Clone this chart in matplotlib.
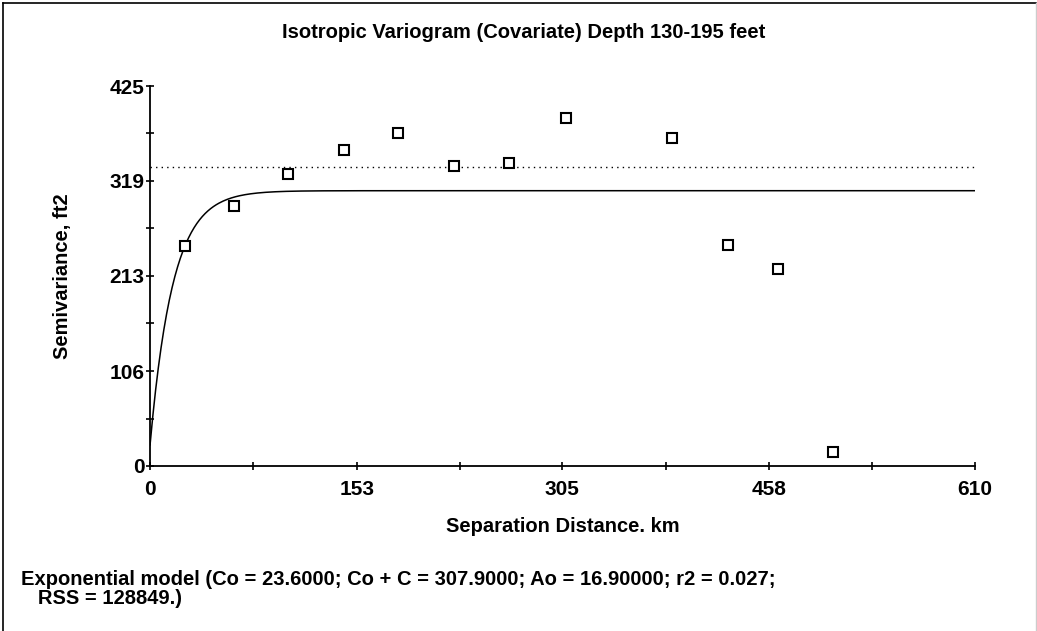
import numpy as np
import matplotlib.pyplot as plt
from matplotlib import rcParams
from matplotlib.lines import Line2D

rcParams['font.family'] = ['Liberation Sans', 'DejaVu Sans']
rcParams['font.weight'] = 'bold'

# 实验变差函数点 (分隔距离, 半方差)
lag_dist = [25.9, 62.4, 102.3, 143.2, 183.6, 225.0, 265.4, 307.3, 385.7, 427.6, 464.1, 505.2]
semivar = [246.4, 290.8, 327.0, 353.8, 372.1, 335.6, 338.6, 389.3, 366.5, 247.5, 220.0, 16.0]

# 模型参数 (图中标注)
Co = 23.6
Co_plus_C = 307.9
Ao = 16.9
sample_var = 334.8  # 虚线

x_ticks = [0, 153, 305, 458, 610]
y_ticks = [0, 106, 213, 319, 425]

fig = plt.figure(figsize=(10.37, 6.31), dpi=100)
ax = fig.add_axes([0.1447, 0.2615, 0.7953, 0.6022])

# 指数模型曲线
h = np.linspace(0, 610, 600)
gamma = Co + (Co_plus_C - Co) * (1 - np.exp(-h / Ao))
ax.plot(h, gamma, color='black', lw=1.1)
ax.plot([0, 610], [sample_var, sample_var], color='black', lw=1.0, linestyle=(0, (1, 3)))
ax.plot(lag_dist, semivar, linestyle='none', marker='s', markersize=7,
        markerfacecolor='white', markeredgecolor='black', markeredgewidth=1.5)

ax.set_xlim(0, 610)
ax.set_ylim(0, 425)
ax.set_xticks(x_ticks)
ax.set_yticks(y_ticks)
ax.set_xticks([(a + b) / 2 for a, b in zip(x_ticks[:-1], x_ticks[1:])], minor=True)
ax.set_yticks([(a + b) / 2 for a, b in zip(y_ticks[:-1], y_ticks[1:])], minor=True)
ax.tick_params(which='both', direction='inout', length=6, width=1.2, labelsize=15)
ax.tick_params(axis='x', pad=7)
ax.tick_params(axis='y', pad=1)
for lab in ax.get_xticklabels() + ax.get_yticklabels():
    lab.set_fontweight('bold')
for s in ['top', 'right']:
    ax.spines[s].set_visible(False)
for s in ['left', 'bottom']:
    ax.spines[s].set_linewidth(1.3)

fig.text(0.505, 0.949, 'Isotropic Variogram (Covariate) Depth 130-195 feet',
         ha='center', va='center', fontsize=14.5, fontweight='bold')
fig.text(0.543, 0.165, 'Separation Distance. km', ha='center', va='center',
         fontsize=14.5, fontweight='bold')
fig.text(0.06, 0.5625, 'Semivariance, ft2', ha='center', va='center', rotation=90,
         fontsize=14.5, fontweight='bold')
fig.text(0.02, 0.067, 'Exponential model (Co = 23.6000; Co + C = 307.9000; Ao = 16.90000; r2 = 0.027;\n'
         '   RSS = 128849.)', ha='left', va='center', fontsize=14.5, fontweight='bold',
         linespacing=1.0)

# 外框
fig.add_artist(Line2D([0.003, 0.003], [0, 0.995], transform=fig.transFigure, color='black', lw=1.2))
fig.add_artist(Line2D([0.003, 0.999], [0.995, 0.995], transform=fig.transFigure, color='black', lw=1.2))
fig.add_artist(Line2D([0.999, 0.999], [0, 0.995], transform=fig.transFigure, color='#cccccc', lw=1.0))

fig.savefig('out.png', dpi=100)
